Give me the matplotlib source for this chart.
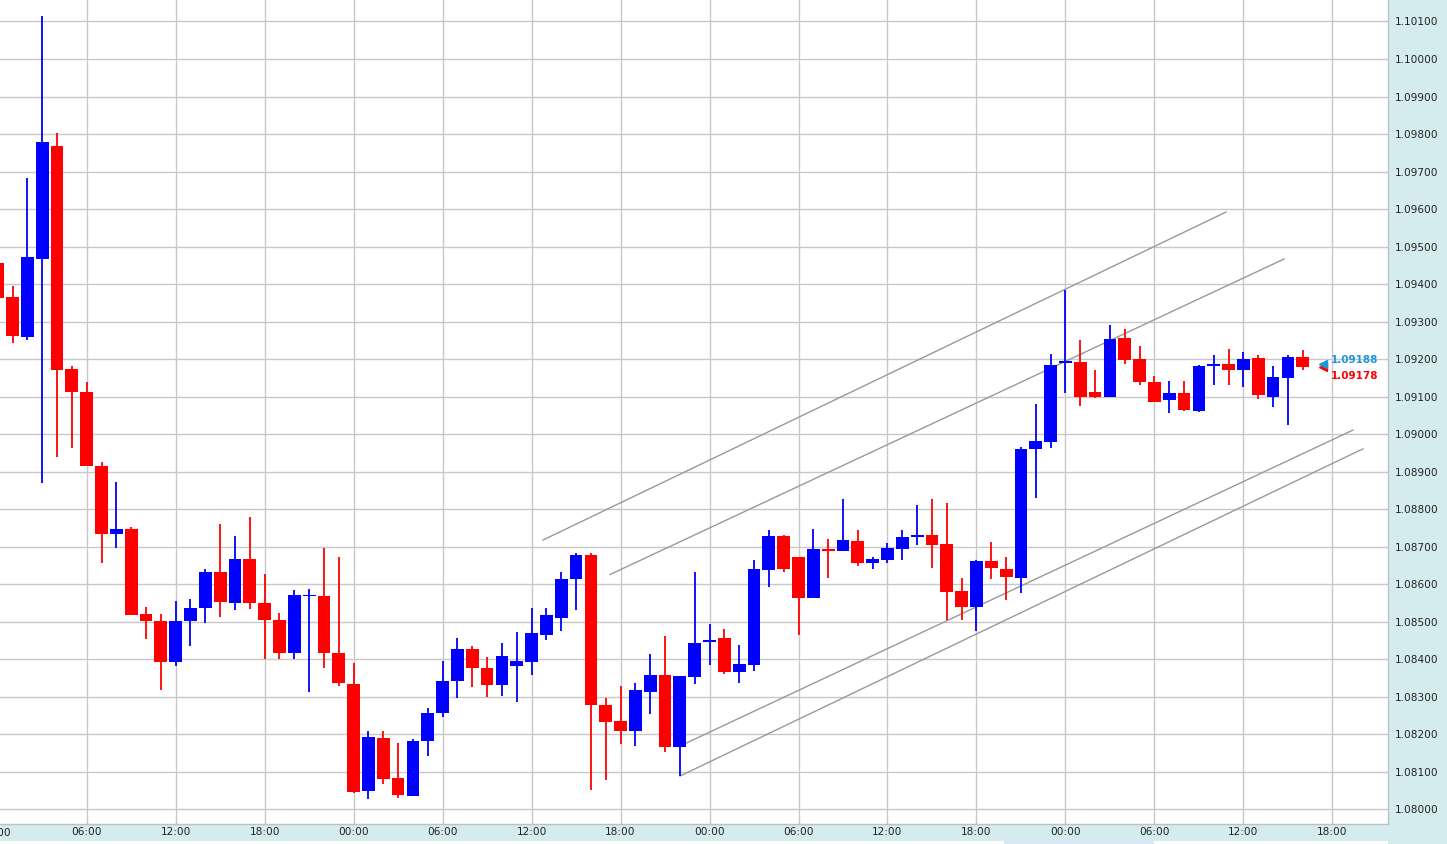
import numpy as np
import matplotlib
matplotlib.use("Agg")
import matplotlib.pyplot as plt
from matplotlib.patches import Rectangle
from matplotlib.transforms import blended_transform_factory

# hourly candles, one per hour starting at 00:00 of day 1
opens = [1.09456, 1.09367, 1.09260, 1.09467, 1.09767, 1.09174, 1.09113, 1.08915, 1.08733, 1.08747,
         1.08521, 1.08503, 1.08393, 1.08503, 1.08538, 1.08633, 1.08551, 1.08668, 1.08550, 1.08505,
         1.08418, 1.08569, 1.08569, 1.08416, 1.08334, 1.08050, 1.08191, 1.08084, 1.08036, 1.08181,
         1.08256, 1.08343, 1.08428, 1.08378, 1.08332, 1.08383, 1.08394, 1.08466, 1.08511, 1.08613,
         1.08677, 1.08279, 1.08236, 1.08210, 1.08312, 1.08359, 1.08167, 1.08354, 1.08445, 1.08458,
         1.08367, 1.08386, 1.08639, 1.08729, 1.08673, 1.08563, 1.08695, 1.08688, 1.08716, 1.08658,
         1.08665, 1.08695, 1.08727, 1.08732, 1.08708, 1.08581, 1.08539, 1.08661, 1.08641, 1.08618,
         1.08961, 1.08980, 1.09191, 1.09193, 1.09112, 1.09098, 1.09257, 1.09201, 1.09140, 1.09090,
         1.09110, 1.09061, 1.09181, 1.09188, 1.09170, 1.09204, 1.09098, 1.09151, 1.09206]
highs = [1.09470, 1.09394, 1.09683, 1.10114, 1.09804, 1.09182, 1.09138, 1.08925, 1.08872, 1.08753,
         1.08540, 1.08521, 1.08556, 1.08562, 1.08641, 1.08761, 1.08729, 1.08779, 1.08628, 1.08523,
         1.08585, 1.08587, 1.08698, 1.08672, 1.08389, 1.08209, 1.08209, 1.08178, 1.08188, 1.08270,
         1.08396, 1.08457, 1.08436, 1.08406, 1.08444, 1.08474, 1.08537, 1.08537, 1.08633, 1.08684,
         1.08684, 1.08297, 1.08330, 1.08337, 1.08415, 1.08462, 1.08356, 1.08633, 1.08494, 1.08480,
         1.08438, 1.08666, 1.08745, 1.08732, 1.08673, 1.08747, 1.08720, 1.08827, 1.08745, 1.08672,
         1.08710, 1.08745, 1.08812, 1.08827, 1.08816, 1.08617, 1.08665, 1.08714, 1.08673, 1.08965,
         1.09080, 1.09214, 1.09385, 1.09252, 1.09172, 1.09292, 1.09280, 1.09236, 1.09156, 1.09142,
         1.09142, 1.09185, 1.09212, 1.09227, 1.09219, 1.09212, 1.09182, 1.09210, 1.09225]
lows = [1.09350, 1.09242, 1.09250, 1.08869, 1.08938, 1.08964, 1.08914, 1.08658, 1.08696, 1.08517,
        1.08455, 1.08318, 1.08383, 1.08435, 1.08498, 1.08514, 1.08531, 1.08533, 1.08400, 1.08400,
        1.08400, 1.08314, 1.08376, 1.08330, 1.08043, 1.08027, 1.08068, 1.08031, 1.08036, 1.08143,
        1.08245, 1.08296, 1.08326, 1.08299, 1.08301, 1.08285, 1.08357, 1.08451, 1.08475, 1.08531,
        1.08052, 1.08078, 1.08175, 1.08170, 1.08253, 1.08152, 1.08089, 1.08334, 1.08385, 1.08362,
        1.08338, 1.08370, 1.08593, 1.08633, 1.08465, 1.08563, 1.08617, 1.08688, 1.08648, 1.08641,
        1.08658, 1.08664, 1.08704, 1.08643, 1.08506, 1.08506, 1.08475, 1.08615, 1.08558, 1.08576,
        1.08829, 1.08962, 1.09111, 1.09074, 1.09096, 1.09098, 1.09187, 1.09131, 1.09086, 1.09056,
        1.09062, 1.09058, 1.09130, 1.09130, 1.09126, 1.09094, 1.09073, 1.09024, 1.09170]
closes = [1.09364, 1.09263, 1.09471, 1.09778, 1.09170, 1.09113, 1.08914, 1.08733, 1.08747, 1.08517,
          1.08503, 1.08393, 1.08503, 1.08538, 1.08633, 1.08554, 1.08668, 1.08551, 1.08506, 1.08418,
          1.08572, 1.08571, 1.08418, 1.08336, 1.08047, 1.08194, 1.08081, 1.08038, 1.08183, 1.08257,
          1.08343, 1.08428, 1.08376, 1.08332, 1.08410, 1.08396, 1.08471, 1.08517, 1.08615, 1.08677,
          1.08277, 1.08234, 1.08210, 1.08319, 1.08359, 1.08167, 1.08356, 1.08444, 1.08452, 1.08367,
          1.08388, 1.08642, 1.08729, 1.08642, 1.08563, 1.08695, 1.08688, 1.08719, 1.08658, 1.08668,
          1.08697, 1.08727, 1.08732, 1.08706, 1.08579, 1.08539, 1.08661, 1.08643, 1.08620, 1.08961,
          1.08982, 1.09185, 1.09196, 1.09098, 1.09098, 1.09254, 1.09198, 1.09138, 1.09086, 1.09109,
          1.09065, 1.09182, 1.09188, 1.09170, 1.09201, 1.09104, 1.09153, 1.09206, 1.09178]

# trend channel lines drawn on the chart (hour, price)
chan_x0 = [36.77, 41.29, 46.01, 46.01]
chan_y0 = [1.08718, 1.08626, 1.08169, 1.08089]
chan_x1 = [82.82, 86.74, 91.39, 92.06]
chan_y1 = [1.09592, 1.09467, 1.09011, 1.08961]

ask_price = 1.09188
bid_price = 1.09178

price_ticks = np.round(np.arange(1.080, 1.1011, 0.001), 3)
hour_ticks = list(range(0, 94, 6))

UP = "#0000FF"
DOWN = "#FF0000"
PANEL = "#D5ECEE"
GRID = "#C8C8C8"

W, H = 1447, 844
fig = plt.figure(figsize=(W / 100, H / 100), dpi=100)
fig.patch.set_facecolor("white")
# background panels behind the axis labels
fig.patches.append(Rectangle((1388 / W, 0), 59 / W, 1, transform=fig.transFigure,
                             facecolor=PANEL, edgecolor="none", zorder=-5))
fig.patches.append(Rectangle((0, 3 / H), 1388 / W, 17 / H, transform=fig.transFigure,
                             facecolor=PANEL, edgecolor="none", zorder=-5))
fig.patches.append(Rectangle((1004 / W, 0), 150 / W, 3 / H, transform=fig.transFigure,
                             facecolor="#D8E6F8", edgecolor="none", zorder=-5))

ax = fig.add_axes([0, 20 / H, 1388 / W, 824 / H])
ax.set_facecolor("white")

x = np.arange(len(opens))
o = np.array(opens)
c = np.array(closes)
colors = [UP if cc > oo else DOWN for oo, cc in zip(o, c)]

# channel lines
for x0, y0, x1, y1 in zip(chan_x0, chan_y0, chan_x1, chan_y1):
    ax.plot([x0, x1], [y0, y1], color="#999999", lw=1.0, zorder=2)

# wicks and bodies
ax.vlines(x, lows, highs, colors=colors, lw=1.3, zorder=3)
body_h = np.maximum(np.abs(c - o), 0.00003)
ax.bar(x, body_h, bottom=np.minimum(o, c), width=0.86, color=colors,
       linewidth=0, zorder=4)

# last price markers
mx = 89.35
ax.plot(mx + 0.05, bid_price, marker="<", color=DOWN, markersize=5.5, zorder=5,
        clip_on=False)
ax.plot(mx, ask_price, marker="<", color="#1E96D8", markersize=6, zorder=6,
        clip_on=False)
ax.annotate(f"{ask_price:.5f}", (89.9, ask_price), xytext=(0, 3), textcoords="offset points",
            ha="left", va="center", fontsize=7.5, fontweight="bold", color="#1E96D8")
ax.annotate(f"{bid_price:.5f}", (89.9, bid_price), xytext=(0, -6.5), textcoords="offset points",
            ha="left", va="center", fontsize=7.5, fontweight="bold", color=DOWN)

ax.set_xlim(0.155, 93.75)
ax.set_ylim(1.079611, 1.101573)

ax.set_yticks(price_ticks)
ax.set_yticklabels([f"{p:.5f}" for p in price_ticks])
ax.yaxis.tick_right()
ax.set_xticks(hour_ticks[1:])
ax.set_xticklabels([f"{h % 24:02d}:00" for h in hour_ticks[1:]])
ax.tick_params(axis="y", length=0, pad=5, labelsize=7.6, labelcolor="#222222")
ax.tick_params(axis="x", length=0, pad=2.5, labelsize=7.6, labelcolor="#222222")

# first label sits on the left edge and is cut off, as in the original
tr = blended_transform_factory(ax.transData, ax.transAxes)
ax.text(hour_ticks[0] - 0.155, -9 / 824, f"{hour_ticks[0] % 24:02d}:00", transform=tr,
        ha="center", va="center", fontsize=7.6, color="#222222", clip_on=False)

ax.grid(True, color=GRID, lw=1.0, zorder=0)
ax.set_axisbelow(True)
for side in ["top", "left"]:
    ax.spines[side].set_visible(False)
for side in ["right", "bottom"]:
    ax.spines[side].set_color("#C0C0C0")
    ax.spines[side].set_linewidth(1.0)

fig.savefig("out.png", dpi=100)
